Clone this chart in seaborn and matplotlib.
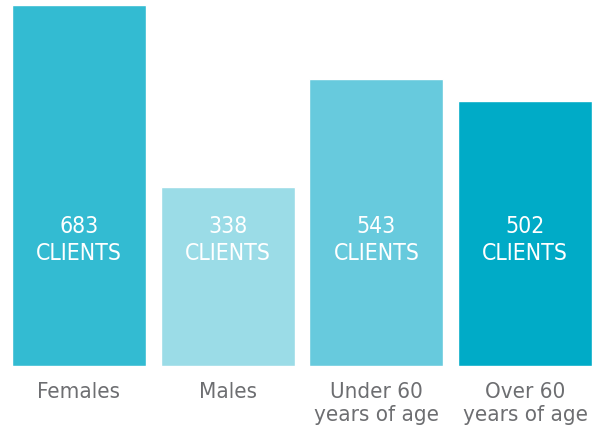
import matplotlib
matplotlib.use("Agg")
import matplotlib.pyplot as plt
import seaborn as sns
import pandas as pd

categories = ["Females", "Males", "Under 60\nyears of age", "Over 60\nyears of age"]
clients = [683, 338, 543, 502]
bar_colors = ["#33BBD2", "#9BDCE7", "#67CADD", "#00ABC7"]

sns.set_style("white")
plt.rcParams["font.family"] = ["DejaVu Sans"]
plt.rcParams["font.stretch"] = "condensed"

df = pd.DataFrame({"group": categories, "clients": clients})

fig = plt.figure(figsize=(5.95, 4.31), dpi=100)
ax = fig.add_axes([12 / 595, 1 - 367 / 431, 580 / 595, 361 / 431])
sns.barplot(data=df, x="group", y="clients", hue="group", palette=bar_colors,
            width=0.9, legend=False, ax=ax, saturation=1)

ax.set_xlim(-0.45, 3.45)
ax.set_ylim(0, 683)
sns.despine(ax=ax, left=True, bottom=True)
ax.set_yticks([])
ax.set_xlabel("")
ax.set_ylabel("")
ax.tick_params(axis="x", length=0, pad=11, labelsize=16, labelcolor="#6D6E71")
for lbl in ax.get_xticklabels():
    lbl.set_verticalalignment("top")
    lbl.set_linespacing(1.2)
    lbl.set_fontstretch("condensed")

# value labels inside the bars
for i, v in enumerate(clients):
    ax.text(i, 240, f"{v}\nCLIENTS", ha="center", va="center", color="white",
            fontsize=16.5, linespacing=1.2, fontstretch="condensed")

fig.savefig("out.png", dpi=100)
